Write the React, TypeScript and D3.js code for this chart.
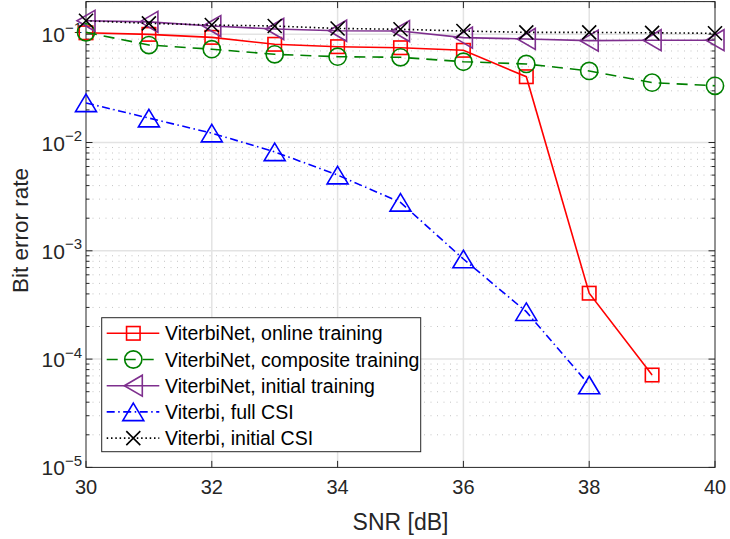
import React from 'react';
import * as d3 from 'd3';

// SNR values (dB)
const snr = [30, 31, 32, 33, 34, 35, 36, 37, 38, 39, 40];

// bit error rates
const onlineTraining = [0.103, 0.0997, 0.0935, 0.0807, 0.0767, 0.075, 0.071, 0.0405, 4.06e-4, 7.13e-5];
const compositeTraining = [0.104, 0.0794, 0.0727, 0.0652, 0.062, 0.0612, 0.0557, 0.0531, 0.0458, 0.0357, 0.0334];
const initialTraining = [0.133, 0.13, 0.119, 0.1117, 0.1076, 0.107, 0.093, 0.0904, 0.0872, 0.088, 0.088];
const fullCSI = [0.0232, 0.0168, 0.0122, 0.0082, 0.005, 0.0028, 8.4e-4, 2.74e-4, 5.77e-5];
const initialCSI = [0.133, 0.126, 0.1216, 0.119, 0.113, 0.111, 0.107, 0.104, 0.104, 0.103, 0.102];

const xTicks = [30, 32, 34, 36, 38, 40];
const yDecades = [-5, -4, -3, -2, -1];

type Marker = 'square' | 'circle' | 'left' | 'up' | 'x';

interface Series {
  name: string;
  values: number[];
  color: string;
  dash: string | undefined;
  marker: Marker;
}

const series: Series[] = [
  { name: 'ViterbiNet, online training', values: onlineTraining, color: '#ff0000', dash: undefined, marker: 'square' },
  { name: 'ViterbiNet, composite training', values: compositeTraining, color: '#008000', dash: '11,7', marker: 'circle' },
  { name: 'ViterbiNet, initial training', values: initialTraining, color: '#7e2f8e', dash: undefined, marker: 'left' },
  { name: 'Viterbi, full CSI', values: fullCSI, color: '#0000ff', dash: '8,3.5,1.5,3.5', marker: 'up' },
  { name: 'Viterbi, initial CSI', values: initialCSI, color: '#000000', dash: '1.5,2.8', marker: 'x' },
];

const W = 730;
const H = 539;
const left = 86;
const right = 715;
const top = 1.6;
const bottom = 467.4;
const axisColor = '#262626';
const font = '"Liberation Sans", Arial, Helvetica, sans-serif';

const x = d3.scaleLinear().domain([30, 40]).range([left, right]);
const y = d3.scaleLog().domain([1e-5, 0.2]).range([bottom, top]);

function MarkerShape({ kind, cx, cy, color }: { kind: Marker; cx: number; cy: number; color: string }) {
  const common = { fill: 'none', stroke: color, strokeWidth: 1.6 };
  if (kind === 'square') {
    const s = 13.5;
    return <rect x={cx - s / 2} y={cy - s / 2} width={s} height={s} {...common} />;
  }
  if (kind === 'circle') {
    return <circle cx={cx} cy={cy} r={8.6} {...common} />;
  }
  if (kind === 'left') {
    const w = 18, h = 21;
    return <path d={`M${cx - w / 2},${cy} L${cx + w / 2},${cy - h / 2} L${cx + w / 2},${cy + h / 2} Z`} {...common} />;
  }
  if (kind === 'up') {
    const w = 21, h = 17.5;
    return <path d={`M${cx},${cy - h / 2} L${cx + w / 2},${cy + h / 2} L${cx - w / 2},${cy + h / 2} Z`} {...common} />;
  }
  const s = 7;
  return <path d={`M${cx - s},${cy - s} L${cx + s},${cy + s} M${cx - s},${cy + s} L${cx + s},${cy - s}`} {...common} />;
}

export default function App() {
  const line = d3.line<[number, number]>()
    .x(d => x(d[0]))
    .y(d => y(d[1]));

  const minorVals: number[] = [];
  yDecades.forEach(e => {
    for (let k = 2; k <= 9; k++) {
      const v = k * Math.pow(10, e);
      if (v <= 0.2) minorVals.push(v);
    }
  });

  const legendX = 101.7;
  const legendY = 317.7;
  const legendW = 319;
  const legendH = 134;
  const rowH = 26.2;

  return (
    <div style={{ position: 'absolute', left: 0, top: 0, background: '#fff' }}>
      <svg width={W} height={H} style={{ display: 'block', fontFamily: font }}>
        <rect x={0} y={0} width={W} height={H} fill="#fff" />

        {/* minor grid */}
        {minorVals.map(v => (
          <line key={'mg' + v} x1={left} x2={right} y1={y(v)} y2={y(v)}
            stroke="#c4c4c4" strokeWidth={1} strokeDasharray="1,5.5" />
        ))}
        {/* major grid */}
        {yDecades.slice(1).map(e => (
          <line key={'yg' + e} x1={left} x2={right} y1={y(Math.pow(10, e))} y2={y(Math.pow(10, e))}
            stroke="#e3e3e3" strokeWidth={1.5} />
        ))}
        {xTicks.slice(1, -1).map(t => (
          <line key={'xg' + t} x1={x(t)} x2={x(t)} y1={top} y2={bottom}
            stroke="#e3e3e3" strokeWidth={1.5} />
        ))}

        {/* ticks */}
        {xTicks.map(t => (
          <g key={'xt' + t}>
            <line x1={x(t)} x2={x(t)} y1={bottom} y2={bottom - 6.5} stroke={axisColor} />
            <line x1={x(t)} x2={x(t)} y1={top} y2={top + 6.5} stroke={axisColor} />
            <text x={x(t)} y={494} textAnchor="middle" fontSize={20} fill={axisColor}>{t}</text>
          </g>
        ))}
        {yDecades.map(e => {
          const yy = y(Math.pow(10, e));
          return (
            <g key={'yt' + e}>
              <line x1={left} x2={left + 6.5} y1={yy} y2={yy} stroke={axisColor} />
              <line x1={right} x2={right - 6.5} y1={yy} y2={yy} stroke={axisColor} />
              <text x={82} y={yy + 8} textAnchor="end" fontSize={21} fill={axisColor}>
                10<tspan fontSize={15} dy={-9.5}>{'\u2212' + Math.abs(e)}</tspan>
              </text>
            </g>
          );
        })}
        {minorVals.map(v => (
          <g key={'mt' + v}>
            <line x1={left} x2={left + 3.5} y1={y(v)} y2={y(v)} stroke={axisColor} />
            <line x1={right} x2={right - 3.5} y1={y(v)} y2={y(v)} stroke={axisColor} />
          </g>
        ))}

        {/* box */}
        <rect x={left} y={top} width={right - left} height={bottom - top} fill="none" stroke={axisColor} strokeWidth={1} />

        {/* axis labels */}
        <text x={(left + right) / 2} y={530} textAnchor="middle" fontSize={23} fill={axisColor}>SNR [dB]</text>
        <text transform={`translate(28,${(top + bottom) / 2 - 4}) rotate(-90)`} textAnchor="middle" fontSize={22.5} fill={axisColor}>Bit error rate</text>

        {/* data */}
        {series.map(s => {
          const pts: [number, number][] = s.values.map((v, i) => [snr[i], v]);
          return (
            <g key={s.name}>
              <path d={line(pts) || ''} fill="none" stroke={s.color} strokeWidth={1.6}
                strokeDasharray={s.dash} />
              {pts.map(p => (
                <MarkerShape key={p[0]} kind={s.marker} cx={x(p[0])} cy={y(p[1])} color={s.color} />
              ))}
            </g>
          );
        })}

        {/* legend */}
        <rect x={legendX} y={legendY} width={legendW} height={legendH} fill="#fff" stroke={axisColor} strokeWidth={1} />
        {series.map((s, i) => {
          const cy = legendY + 15.6 + i * rowH;
          return (
            <g key={'lg' + s.name}>
              <line x1={106.7} x2={159.3} y1={cy} y2={cy} stroke={s.color} strokeWidth={1.6} strokeDasharray={s.dash} />
              <MarkerShape kind={s.marker} cx={133.3} cy={cy} color={s.color} />
              <text x={165} y={cy + 7} fontSize={19.5} fill="#000">{s.name}</text>
            </g>
          );
        })}
      </svg>
    </div>
  );
}
